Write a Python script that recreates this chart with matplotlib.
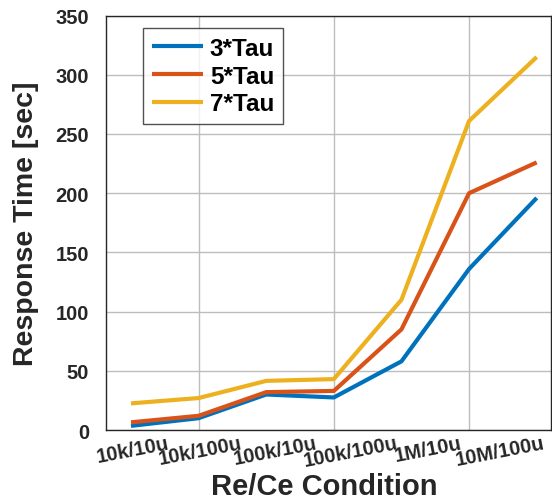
import matplotlib
matplotlib.use("Agg")
import matplotlib.pyplot as plt
from matplotlib.ticker import FixedLocator

plt.rcParams['font.family'] = ['Liberation Sans', 'DejaVu Sans']
plt.rcParams['font.weight'] = 'bold'

x = [1, 2, 3, 4, 5, 6, 7]
tau3 = [3.5, 10, 30, 27.5, 58, 136, 196]
tau5 = [6.5, 12, 32, 33, 85, 200, 226]
tau7 = [22.5, 27, 41.5, 43, 110, 261, 315]
series_names = ['3*Tau', '5*Tau', '7*Tau']
colors = ['#0072BD', '#D95319', '#EDB120']

tick_labels = ['10k/10u', '10k/100u', '100k/10u', '100k/100u', '1M/10u', '10M/100u']
label_pos = [1.53, 2.61, 3.72, 4.92, 5.86, 7.08]
grid_x = [2, 4, 6]
yticks = [0, 50, 100, 150, 200, 250, 300, 350]

fig = plt.figure(figsize=(5.52, 5.02), dpi=100)
ax = fig.add_axes([0.1915, 0.1414, 0.998 - 0.1915, 0.967 - 0.1414])

for vals, name, c in zip([tau3, tau5, tau7], series_names, colors):
    ax.plot(x, vals, color=c, lw=3, label=name, solid_capstyle='butt')

ax.set_xlim(0.626, 7.21)
ax.set_ylim(0, 350)
ax.set_yticks(yticks)
ax.set_xticks(label_pos)
ax.set_xticklabels(tick_labels, rotation=11, ha='right', va='top',
                   rotation_mode='anchor', fontsize=14.5, fontweight='bold',
                   color='#262626')
ax.xaxis.set_minor_locator(FixedLocator(grid_x))
ax.tick_params(axis='x', which='major', length=0, pad=2.5)
ax.tick_params(axis='x', which='minor', length=0)
ax.tick_params(axis='y', length=0, labelsize=14.5, pad=12, labelcolor='#262626')
for lab in ax.get_yticklabels():
    lab.set_fontweight('bold')

ax.grid(False)
ax.xaxis.grid(True, which='minor', color='#bdbdbd', lw=1)
ax.yaxis.grid(True, which='major', color='#bdbdbd', lw=1)
ax.set_axisbelow(True)
for s in ax.spines.values():
    s.set_color('#262626')
    s.set_linewidth(1)

ax.set_xlabel('Re/Ce Condition', fontsize=21, fontweight='bold', color='#262626')
ax.xaxis.set_label_coords(0.49, -0.155, transform=ax.transAxes)
ax.xaxis.label.set_va('baseline')
ax.set_ylabel('Response Time [sec]', fontsize=20.5, fontweight='bold', color='#262626', labelpad=12)

leg = ax.legend(loc='upper left', bbox_to_anchor=(0.084, 0.969), borderaxespad=0,
                prop={'weight': 'bold', 'size': 17.5}, frameon=True, fancybox=False,
                handlelength=2.1, handletextpad=0.3, labelspacing=0.19, borderpad=0.35)
leg.get_frame().set_edgecolor('#262626')
leg.get_frame().set_linewidth(1)

fig.savefig('out.png', dpi=100)
